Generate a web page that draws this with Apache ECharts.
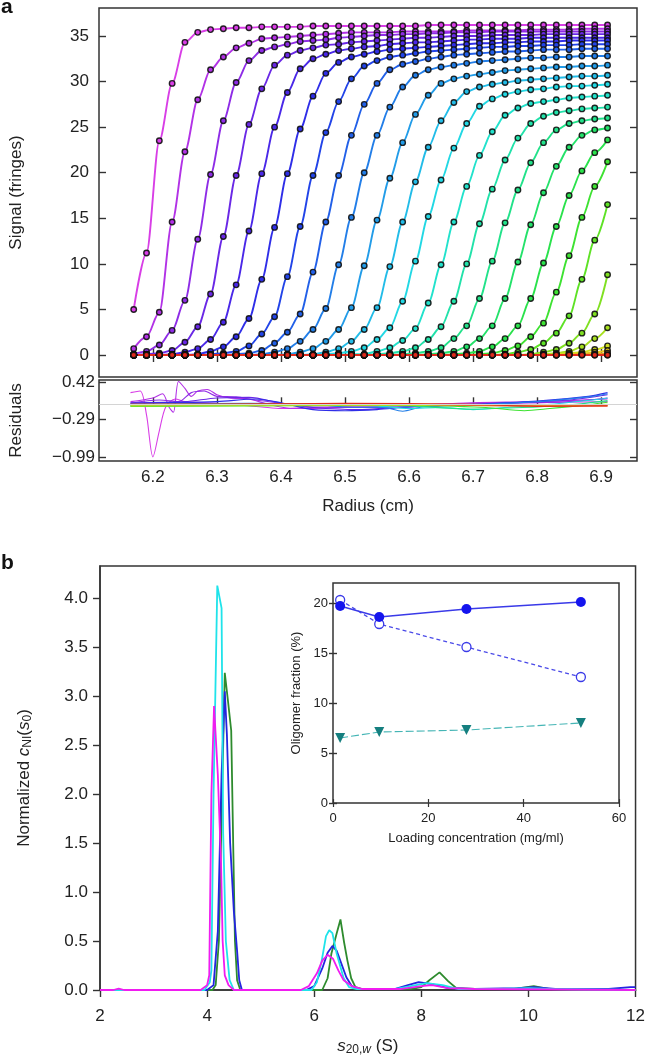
<!DOCTYPE html>
<html>
<head>
<meta charset="utf-8">
<script src="https://cdn.jsdelivr.net/npm/echarts@6/dist/echarts.min.js"></script>
<style>
html, body { margin: 0; padding: 0; background: #fff; }
#chart { width: 648px; height: 1063px; }
</style>
</head>
<body>
<div id="chart"></div>
<script>
// ---- panel a: sedimentation boundaries (fringes) on a shared radius grid (cm)
const radius = [6.17, 6.19, 6.21, 6.23, 6.25, 6.27, 6.29, 6.31, 6.33, 6.35,
  6.37, 6.39, 6.41, 6.43, 6.45, 6.47, 6.49, 6.51, 6.53, 6.55,
  6.57, 6.59, 6.61, 6.63, 6.65, 6.67, 6.69, 6.71, 6.73, 6.75,
  6.77, 6.79, 6.81, 6.83, 6.85, 6.87, 6.89, 6.91];

const scan1 = [5.0, 11.2, 23.5, 29.8, 34.3, 35.4, 35.7, 35.8, 35.9, 35.9,
  36.0, 36.0, 36.0, 36.0, 36.1, 36.1, 36.1, 36.1, 36.1, 36.1,
  36.1, 36.1, 36.1, 36.2, 36.2, 36.2, 36.2, 36.2, 36.2, 36.2,
  36.2, 36.2, 36.2, 36.2, 36.2, 36.2, 36.2, 36.2];
const scan2 = [0.7, 2.0, 4.7, 14.6, 22.3, 28.0, 31.3, 32.7, 33.7, 34.2,
  34.7, 34.8, 34.9, 35.0, 35.1, 35.2, 35.3, 35.4, 35.4, 35.4,
  35.4, 35.5, 35.5, 35.5, 35.5, 35.5, 35.6, 35.6, 35.6, 35.6,
  35.6, 35.7, 35.7, 35.7, 35.7, 35.8, 35.8, 35.8];
const scan3 = [0.1, 0.4, 1.1, 2.7, 6.0, 12.7, 19.8, 25.7, 29.9, 32.3,
  33.4, 33.8, 34.1, 34.4, 34.5, 34.6, 34.8, 34.9, 35.0, 35.1,
  35.1, 35.2, 35.2, 35.3, 35.3, 35.4, 35.4, 35.4, 35.5, 35.5,
  35.5, 35.5, 35.5, 35.5, 35.5, 35.5, 35.5, 35.5];
const scan4 = [0, 0.1, 0.2, 0.5, 1.4, 3.1, 6.7, 13.0, 19.7, 25.3,
  29.2, 31.8, 32.9, 33.4, 33.7, 34.0, 34.1, 34.3, 34.4, 34.5,
  34.6, 34.7, 34.8, 34.8, 34.9, 35.0, 35.0, 35.0, 35.1, 35.1,
  35.1, 35.1, 35.2, 35.2, 35.2, 35.2, 35.2, 35.2];
const scan5 = [0, 0, 0, 0.1, 0.3, 0.7, 1.7, 3.6, 7.7, 13.6,
  19.9, 25.0, 28.8, 31.4, 32.5, 33.0, 33.4, 33.6, 33.8, 33.9,
  34.1, 34.2, 34.3, 34.3, 34.4, 34.5, 34.6, 34.6, 34.7, 34.7,
  34.7, 34.8, 34.8, 34.8, 34.8, 34.8, 34.8, 34.8];
const scan6 = [0, 0, 0, 0, 0, 0.1, 0.4, 0.9, 2.0, 4.0,
  8.3, 14.0, 19.9, 24.8, 28.4, 30.9, 32.1, 32.7, 33.0, 33.3,
  33.5, 33.6, 33.7, 33.8, 33.9, 34.0, 34.1, 34.2, 34.2, 34.3,
  34.3, 34.4, 34.4, 34.4, 34.5, 34.5, 34.5, 34.5];
const scan7 = [0, 0, 0, 0, 0, 0, 0.1, 0.2, 0.4, 1.0,
  2.3, 4.2, 8.6, 14.1, 19.7, 24.4, 27.8, 30.3, 31.7, 32.3,
  32.7, 32.9, 33.1, 33.3, 33.4, 33.5, 33.6, 33.7, 33.8, 33.8,
  33.9, 33.9, 34.0, 34.0, 34.0, 34.1, 34.1, 34.1];
const scan8 = [0, 0, 0, 0, 0, 0, 0, 0, 0.1, 0.2,
  0.5, 1.3, 2.5, 4.5, 9.1, 14.6, 19.7, 24.1, 27.5, 29.8,
  31.3, 31.9, 32.2, 32.5, 32.7, 32.9, 33.0, 33.1, 33.2, 33.3,
  33.3, 33.4, 33.5, 33.5, 33.5, 33.6, 33.6, 33.6];
const scan9 = [0, 0, 0, 0, 0, 0, 0, 0, 0, 0,
  0.1, 0.3, 0.7, 1.5, 2.8, 5.1, 9.9, 15.1, 20.0, 24.1,
  27.2, 29.4, 30.7, 31.3, 31.6, 31.8, 32.0, 32.2, 32.3, 32.4,
  32.5, 32.6, 32.6, 32.7, 32.7, 32.8, 32.8, 32.8];
const scan10 = [0, 0, 0, 0, 0, 0, 0, 0, 0, 0,
  0, 0, 0.1, 0.3, 0.7, 1.5, 2.8, 5.2, 9.8, 14.8,
  19.4, 23.3, 26.4, 28.5, 29.8, 30.3, 30.6, 30.8, 31.0, 31.2,
  31.3, 31.4, 31.5, 31.6, 31.6, 31.7, 31.7, 31.8];
const scan11 = [0, 0, 0, 0, 0, 0, 0, 0, 0, 0,
  0, 0, 0, 0, 0.1, 0.3, 0.7, 1.5, 2.8, 5.2,
  9.7, 14.6, 19.0, 22.8, 25.7, 27.7, 28.9, 29.4, 29.7, 29.9,
  30.1, 30.2, 30.3, 30.4, 30.5, 30.6, 30.6, 30.7];
const scan12 = [0, 0, 0, 0, 0, 0, 0, 0, 0, 0,
  0, 0, 0, 0, 0, 0.1, 0.2, 0.4, 0.8, 1.7,
  3.0, 5.9, 10.3, 15.2, 19.2, 22.7, 25.4, 27.3, 28.1, 28.6,
  28.9, 29.1, 29.2, 29.4, 29.5, 29.5, 29.6, 29.7];
const scan13 = [0, 0, 0, 0, 0, 0, 0, 0, 0, 0,
  0, 0, 0, 0, 0, 0, 0, 0.1, 0.1, 0.4,
  0.8, 1.6, 2.9, 5.7, 9.9, 14.6, 18.5, 21.9, 24.5, 26.3,
  27.1, 27.6, 27.8, 28.0, 28.2, 28.3, 28.4, 28.5];
const scan14 = [0, 0, 0, 0, 0, 0, 0, 0, 0, 0,
  0, 0, 0, 0, 0, 0, 0, 0, 0, 0.1,
  0.2, 0.4, 0.8, 1.7, 3.1, 5.9, 10.0, 14.4, 18.2, 21.4,
  23.8, 25.4, 26.2, 26.6, 26.8, 27.0, 27.1, 27.2];
const scan15 = [0, 0, 0, 0, 0, 0, 0, 0, 0, 0,
  0, 0, 0, 0, 0, 0, 0, 0, 0, 0,
  0, 0.1, 0.2, 0.4, 0.8, 1.8, 3.2, 6.2, 10.3, 14.5,
  18.1, 21.1, 23.3, 24.7, 25.4, 25.7, 25.9, 26.0];
const scan16 = [0, 0, 0, 0, 0, 0, 0, 0, 0, 0,
  0, 0, 0, 0, 0, 0, 0, 0, 0, 0,
  0, 0, 0, 0.1, 0.2, 0.4, 0.9, 1.8, 3.2, 6.2,
  10.2, 14.3, 17.8, 20.7, 22.8, 24.1, 24.7, 24.9];
const scan17 = [0, 0, 0, 0, 0, 0, 0, 0, 0, 0,
  0, 0, 0, 0, 0, 0, 0, 0, 0, 0,
  0, 0, 0, 0, 0, 0.1, 0.2, 0.4, 0.9, 1.8,
  3.2, 6.2, 10.1, 14.1, 17.5, 20.2, 22.2, 23.6];
const scan18 = [0, 0, 0, 0, 0, 0, 0, 0, 0, 0,
  0, 0, 0, 0, 0, 0, 0, 0, 0, 0,
  0, 0, 0, 0, 0, 0, 0, 0.1, 0.2, 0.5,
  1.0, 2.0, 3.5, 6.9, 10.9, 15.1, 18.5, 21.2];
const scan19 = [0, 0, 0, 0, 0, 0, 0, 0, 0, 0,
  0, 0, 0, 0, 0, 0, 0, 0, 0, 0,
  0, 0, 0, 0, 0, 0, 0, 0, 0, 0.1,
  0.3, 0.6, 1.3, 2.4, 4.3, 8.3, 12.6, 16.5];
const scan20 = [0, 0, 0, 0, 0, 0, 0, 0, 0, 0,
  0, 0, 0, 0, 0, 0, 0, 0, 0, 0,
  0, 0, 0, 0, 0, 0, 0, 0, 0, 0,
  0, 0.1, 0.3, 0.6, 1.3, 2.4, 4.5, 8.8];
const scan21 = [0, 0, 0, 0, 0, 0, 0, 0, 0, 0,
  0, 0, 0, 0, 0, 0, 0, 0, 0, 0,
  0, 0, 0, 0, 0, 0, 0, 0, 0, 0,
  0, 0, 0.1, 0.2, 0.4, 0.9, 1.8, 3.0];
const scan22 = [0, 0, 0, 0, 0, 0, 0, 0, 0, 0,
  0, 0, 0, 0, 0, 0, 0, 0, 0, 0,
  0, 0, 0, 0, 0, 0, 0, 0, 0, 0,
  0, 0, 0, 0.1, 0.2, 0.3, 0.6, 1.0];
const scan23 = [0, 0, 0, 0, 0, 0, 0, 0, 0, 0,
  0, 0, 0, 0, 0, 0, 0, 0, 0, 0,
  0, 0, 0, 0, 0, 0, 0, 0, 0, 0,
  0, 0, 0, 0, 0.1, 0.15, 0.3, 0.5];
const scan24 = [0, 0, 0, 0, 0, 0, 0, 0, 0, 0,
  0, 0, 0, 0, 0, 0, 0, 0, 0, 0,
  0, 0, 0, 0, 0, 0, 0, 0, 0, 0,
  0, 0, 0, 0, 0, 0.05, 0.1, 0.2];
const scan25 = [0, 0, 0, 0, 0, 0, 0, 0, 0, 0,
  0, 0, 0, 0, 0, 0, 0, 0, 0, 0,
  0, 0, 0, 0, 0, 0, 0, 0, 0, 0,
  0, 0, 0, 0, 0, 0, 0, 0];
const scan26 = [0, 0, 0, 0, 0, 0, 0, 0, 0, 0,
  0, 0, 0, 0, 0, 0, 0, 0, 0, 0,
  0, 0, 0, 0, 0, 0, 0, 0, 0, 0,
  0, 0, 0, 0, 0, 0, 0, 0];

// residuals as [radius, residual] pairs, key scans only
const res1 = [[6.165, 0.22], [6.18, 0.25], [6.19, -0.2], [6.2, -0.99], [6.21, -0.5], [6.22, -0.05], [6.235, 0.1], [6.25, 0.05], [6.3, 0.02], [6.37, -0.05], [6.4, -0.08], [6.45, -0.06], [6.5, -0.04], [6.6, -0.01], [6.7, 0.02], [6.8, 0.03], [6.91, 0.05]];
const res2 = [[6.165, 0.05], [6.2, 0.12], [6.215, 0.2], [6.225, -0.05], [6.232, -0.15], [6.24, 0.43], [6.25, 0.3], [6.26, 0.15], [6.27, 0.25], [6.285, 0.28], [6.3, 0.18], [6.32, 0.12], [6.35, 0.1], [6.38, 0.0], [6.42, -0.08], [6.5, -0.06], [6.6, -0.02], [6.7, 0.03], [6.8, 0.05], [6.91, 0.1]];
const res3 = [[6.165, 0.02], [6.21, 0.08], [6.24, 0.05], [6.26, 0.22], [6.28, 0.25], [6.3, 0.15], [6.33, 0.14], [6.36, 0.08], [6.4, 0.02], [6.45, -0.05], [6.55, -0.06], [6.65, -0.02], [6.75, 0.02], [6.85, 0.05], [6.91, 0.12]];
const res4 = [[6.165, 0.03], [6.25, 0.05], [6.3, 0.12], [6.35, 0.13], [6.4, 0.02], [6.45, -0.06], [6.52, -0.1], [6.58, -0.06], [6.65, -0.02], [6.75, 0.02], [6.85, 0.08], [6.91, 0.18]];
const res6 = [[6.165, 0.02], [6.3, 0.05], [6.36, 0.1], [6.4, 0.03], [6.45, -0.1], [6.5, -0.12], [6.55, -0.1], [6.6, -0.05], [6.7, 0.0], [6.8, 0.06], [6.88, 0.15], [6.91, 0.22]];
const res9 = [[6.165, 0.0], [6.35, 0.02], [6.45, 0.0], [6.5, -0.05], [6.56, -0.06], [6.59, -0.13], [6.62, -0.05], [6.7, -0.01], [6.8, 0.05], [6.88, 0.14], [6.91, 0.2]];
const res12 = [[6.165, -0.02], [6.45, 0.0], [6.55, -0.03], [6.6, -0.08], [6.65, -0.06], [6.7, -0.1], [6.75, -0.06], [6.82, 0.0], [6.9, 0.1], [6.91, 0.12]];
const res15 = [[6.165, -0.03], [6.5, -0.01], [6.6, -0.03], [6.7, -0.09], [6.75, -0.07], [6.8, -0.05], [6.86, 0.0], [6.91, 0.07]];
const res18 = [[6.165, -0.04], [6.6, -0.02], [6.72, -0.06], [6.78, -0.12], [6.82, -0.08], [6.87, -0.02], [6.91, 0.04]];
const res21 = [[6.165, -0.03], [6.7, -0.02], [6.85, -0.03], [6.91, 0.0]];
const res23 = [[6.165, -0.01], [6.6, 0.0], [6.91, -0.02]];
const res25 = [[6.165, 0.0], [6.5, 0.01], [6.8, -0.03], [6.91, -0.03]];
const res26 = [[6.165, 0.0], [6.3, 0.0], [6.5, 0.02], [6.7, 0.0], [6.8, -0.04], [6.91, -0.03]];

const radiusTicks = [6.2, 6.3, 6.4, 6.5, 6.6, 6.7, 6.8, 6.9];
const signalTicks = [0, 5, 10, 15, 20, 25, 30, 35];
const residualTicks = [-0.99, -0.29, 0.42];

// ---- panel b: normalized c(s) distributions, [s20,w, value]
const csGreen = [[2, 0], [4.1, 0], [4.16, 0.05], [4.22, 0.5], [4.28, 2.0], [4.33, 3.24], [4.39, 2.95], [4.45, 2.65], [4.49, 1.4], [4.52, 0.5], [4.56, 0.1], [4.62, 0], [6.15, 0], [6.25, 0.12], [6.32, 0.37], [6.42, 0.58], [6.49, 0.72], [6.56, 0.48], [6.62, 0.3], [6.69, 0.12], [6.77, 0.03], [6.9, 0.01], [7.8, 0.01], [8.0, 0.03], [8.15, 0.1], [8.34, 0.18], [8.5, 0.09], [8.65, 0.02], [9.0, 0.01], [9.7, 0.01], [10.1, 0.04], [10.4, 0.01], [11, 0], [12, 0]];
const csBlue = [[2, 0], [4.0, 0], [4.12, 0.05], [4.2, 0.6], [4.27, 2.2], [4.33, 3.05], [4.37, 2.6], [4.43, 1.5], [4.5, 0.8], [4.56, 0.4], [4.6, 0.1], [4.65, 0], [5.85, 0], [6.0, 0.04], [6.15, 0.22], [6.25, 0.38], [6.34, 0.45], [6.42, 0.4], [6.5, 0.28], [6.6, 0.13], [6.7, 0.04], [6.85, 0.01], [7.5, 0.01], [7.75, 0.05], [7.95, 0.08], [8.2, 0.06], [8.5, 0.02], [9.0, 0.01], [9.8, 0.02], [10.1, 0.03], [10.5, 0.01], [11.5, 0.01], [11.9, 0.03], [12, 0.03]];
const csCyan = [[2, 0], [3.95, 0], [4.05, 0.08], [4.08, 0.2], [4.12, 2.0], [4.19, 4.13], [4.27, 3.9], [4.3, 1.6], [4.35, 0.5], [4.42, 0.1], [4.5, 0], [5.95, 0], [6.05, 0.08], [6.14, 0.3], [6.22, 0.55], [6.28, 0.61], [6.34, 0.58], [6.42, 0.37], [6.55, 0.12], [6.65, 0.03], [6.8, 0.01], [7.5, 0.01], [7.8, 0.04], [8.1, 0.07], [8.4, 0.05], [8.7, 0.01], [9.5, 0.01], [10.0, 0.02], [10.4, 0.01], [12, 0]];
const csMagenta = [[2, 0], [2.25, 0], [2.35, 0.015], [2.45, 0], [3.88, 0], [4.0, 0.05], [4.04, 0.15], [4.08, 2.0], [4.13, 2.9], [4.2, 2.2], [4.26, 1.3], [4.29, 0.5], [4.33, 0.15], [4.4, 0.05], [4.5, 0], [5.75, 0], [5.9, 0.04], [6.05, 0.17], [6.15, 0.3], [6.25, 0.36], [6.35, 0.32], [6.45, 0.2], [6.55, 0.1], [6.7, 0.04], [6.9, 0.01], [7.6, 0.01], [8.0, 0.04], [8.2, 0.05], [8.5, 0.02], [9.0, 0.01], [12, 0]];
const cTicks = [0, 0.5, 1, 1.5, 2, 2.5, 3, 3.5, 4];

// inset: oligomer fraction (%) vs loading concentration (mg/ml)
const loadConc = [1.5, 9.7, 28, 52];
const oligoFilled = [19.7, 18.6, 19.4, 20.1];
const oligoOpen = [20.3, 17.9, 15.6, 12.6];
const oligoTriangle = [6.5, 7.1, 7.3, 8.0];
const insetTicks = [0, 5, 10, 15, 20];

const scans = [scan1, scan2, scan3, scan4, scan5, scan6, scan7, scan8, scan9, scan10,
  scan11, scan12, scan13, scan14, scan15, scan16, scan17, scan18, scan19, scan20,
  scan21, scan22, scan23, scan24, scan25, scan26];
const scanColors = ['#d83ee6', '#b232e6', '#8e2ce6', '#6a28e6', '#4a28e8', '#2f2ee8', '#2244e8', '#2260e8', '#227ee8', '#229ce8',
  '#22bce8', '#22d8e4', '#22e2cc', '#22e2aa', '#22e28a', '#24e26a', '#2ae24c', '#3ee232', '#5ee226', '#80e022',
  '#a8e020', '#d0e020', '#e8c820', '#e89a20', '#e86420', '#e02a1c'];
const residuals = [[res1, 0], [res2, 1], [res3, 2], [res4, 3], [res6, 5], [res9, 8], [res12, 11],
  [res15, 14], [res18, 17], [res21, 20], [res23, 22], [res25, 24], [res26, 25]];

const FONT = '"Liberation Sans", Arial, Helvetica, sans-serif';
const INK = '#222';
const frame = { show: true, borderColor: '#333', borderWidth: 1.5, backgroundColor: 'transparent' };
const lbl = (size, extra) => Object.assign({ fontSize: size, color: INK, fontFamily: FONT }, extra || {});
const tick = (vals, inside, len) => ({ show: true, inside: inside, length: len, customValues: vals, lineStyle: { color: '#333', width: 1.4 } });
const off = { show: false };

let chart = echarts.init(document.getElementById('chart'), null, { renderer: 'canvas' });

let series = [];
scans.forEach((s, i) => {
  series.push({
    type: 'line', xAxisIndex: 0, yAxisIndex: 0,
    data: radius.map((r, k) => [r, s[k]]),
    smooth: 0.3, smoothMonotone: 'x',
    symbol: 'circle', symbolSize: 5.5, showAllSymbol: true,
    lineStyle: { color: scanColors[i], width: 1.9 },
    itemStyle: { color: scanColors[i], borderColor: 'rgba(15,15,15,0.9)', borderWidth: 1.4 },
    silent: true
  });
});
residuals.forEach(([d, ci], i) => {
  let s = {
    type: 'line', xAxisIndex: 2, yAxisIndex: 2, data: d,
    smooth: 0.3, showSymbol: false,
    lineStyle: { color: scanColors[ci], width: 1.1 }, silent: true
  };
  if (i === 0) {
    s.markLine = { silent: true, symbol: 'none', label: off, data: [{ yAxis: 0 }],
      lineStyle: { color: '#d4d4d4', width: 1, type: 'solid' } };
  }
  series.push(s);
});
[[csGreen, '#2e8b2e'], [csBlue, '#2424e0'], [csCyan, '#1fe3ea'], [csMagenta, '#f01cf0']].forEach(([d, c]) => {
  series.push({ type: 'line', xAxisIndex: 3, yAxisIndex: 4, data: d, showSymbol: false,
    lineStyle: { color: c, width: 1.8 }, silent: true });
});
series.push({ type: 'line', xAxisIndex: 4, yAxisIndex: 5,
  data: loadConc.map((c, i) => [c, oligoOpen[i]]),
  symbol: 'circle', symbolSize: 9,
  itemStyle: { color: '#fff', borderColor: '#3a3ae8', borderWidth: 1.3 },
  lineStyle: { color: '#4a4ae8', width: 1.3, type: [4, 3] }, silent: true });
series.push({ type: 'line', xAxisIndex: 4, yAxisIndex: 5,
  data: loadConc.map((c, i) => [c, oligoFilled[i]]),
  symbol: 'circle', symbolSize: 10,
  itemStyle: { color: '#1414ee' },
  lineStyle: { color: '#3a3ae8', width: 1.3 }, silent: true });
series.push({ type: 'line', xAxisIndex: 4, yAxisIndex: 5,
  data: loadConc.map((c, i) => [c, oligoTriangle[i]]),
  symbol: 'triangle', symbolRotate: 180, symbolSize: 10,
  itemStyle: { color: '#157f7f' },
  lineStyle: { color: '#45b5b5', width: 1.1, type: [8, 3] }, silent: true });

const rich = {
  t: lbl(17, { lineHeight: 20 }),
  i: lbl(17, { fontStyle: 'italic', lineHeight: 20 }),
  s: lbl(12, { lineHeight: 12, padding: [9, 0, 0, 0], verticalAlign: 'bottom' }),
  si: lbl(12, { fontStyle: 'italic', lineHeight: 12, padding: [9, 0, 0, 0], verticalAlign: 'bottom' })
};

let option = {
  animation: false,
  backgroundColor: '#fff',
  textStyle: { fontFamily: FONT },
  graphic: [
    { type: 'text', left: 1, top: -3, style: { text: 'a', fontSize: 21, fontWeight: 'bold', fontFamily: FONT, fill: '#111' } },
    { type: 'text', left: 1, top: 553, style: { text: 'b', fontSize: 21, fontWeight: 'bold', fontFamily: FONT, fill: '#111' } }
  ],
  grid: [
    Object.assign({ left: 98, top: 8, width: 539, height: 369 }, frame),
    Object.assign({ left: 98, top: 380, width: 539, height: 81 }, frame),
    Object.assign({ left: 100, top: 566, width: 536, height: 424 }, frame),
    Object.assign({ left: 333, top: 583, width: 286, height: 220 }, frame, { backgroundColor: '#fff' })
  ],
  xAxis: [
    { gridIndex: 0, type: 'value', min: 6.1158, max: 6.956, position: 'bottom',
      axisLine: off, axisTick: tick(radiusTicks, true, 7), axisLabel: off, splitLine: off },
    { gridIndex: 0, type: 'value', min: 6.1158, max: 6.956, position: 'top',
      axisLine: off, axisTick: tick(radiusTicks, true, 7), axisLabel: off, splitLine: off },
    { gridIndex: 1, type: 'value', min: 6.1158, max: 6.956, position: 'bottom',
      axisLine: off, axisTick: tick(radiusTicks, true, 7), splitLine: off,
      axisLabel: lbl(17, { customValues: radiusTicks, margin: 8, formatter: v => v.toFixed(1) }),
      name: 'Radius (cm)', nameLocation: 'middle', nameGap: 37, nameTextStyle: lbl(17) },
    { gridIndex: 2, type: 'value', min: 2, max: 12, interval: 2,
      axisLine: { show: true, lineStyle: { color: '#333', width: 1.5 } },
      axisTick: { show: true, inside: false, length: 7, lineStyle: { color: '#333', width: 1.4 } },
      axisLabel: lbl(17, { margin: 18 }), splitLine: off,
      name: '{i|s}{s|20,}{si|w}{t| (S)}', nameLocation: 'middle', nameGap: 46,
      nameTextStyle: { rich: rich } },
    { gridIndex: 3, type: 'value', min: 0, max: 60, interval: 20,
      axisLine: off, axisTick: { show: true, inside: true, length: 4, lineStyle: { color: '#333', width: 1.2 } },
      axisLabel: lbl(13, { margin: 9 }), splitLine: off,
      name: 'Loading concentration (mg/ml)', nameLocation: 'middle', nameGap: 29, nameTextStyle: lbl(13) },
    { gridIndex: 3, type: 'value', min: 0, max: 60, interval: 20, position: 'top',
      axisLine: off, axisTick: { show: true, inside: true, length: 4, lineStyle: { color: '#333', width: 1.2 } },
      axisLabel: off, splitLine: off }
  ],
  yAxis: [
    { gridIndex: 0, type: 'value', min: -2.41, max: 38.07, position: 'left',
      axisLine: off, axisTick: tick(signalTicks, true, 7), splitLine: off,
      axisLabel: lbl(17, { customValues: signalTicks, margin: 10 }),
      name: 'Signal (fringes)', nameLocation: 'middle', nameGap: 74, nameTextStyle: lbl(17) },
    { gridIndex: 0, type: 'value', min: -2.41, max: 38.07, position: 'right',
      axisLine: off, axisTick: tick(signalTicks, true, 7), axisLabel: off, splitLine: off },
    { gridIndex: 1, type: 'value', min: -1.068, max: 0.458, position: 'left',
      axisLine: off, axisTick: tick(residualTicks, true, 7), splitLine: off,
      axisLabel: lbl(17, { customValues: residualTicks, margin: 4,
        formatter: v => (v < 0 ? '\u2212' : '') + Math.abs(v).toFixed(2) }),
      name: 'Residuals', nameLocation: 'middle', nameGap: 74, nameTextStyle: lbl(17) },
    { gridIndex: 1, type: 'value', min: -1.068, max: 0.458, position: 'right',
      axisLine: off, axisTick: tick(residualTicks, true, 7), axisLabel: off, splitLine: off },
    { gridIndex: 2, type: 'value', min: 0, max: 4.33, position: 'left',
      axisLine: { show: true, lineStyle: { color: '#333', width: 1.5 } },
      axisTick: tick(cTicks, false, 7), splitLine: off,
      axisLabel: lbl(17, { customValues: cTicks, margin: 12, formatter: v => v.toFixed(1) }),
      name: '{t|Normalized }{i|c}{s|NI}{t|(}{i|s}{s|0}{t|)}', nameLocation: 'middle', nameGap: 66,
      nameTextStyle: { rich: rich } },
    { gridIndex: 3, type: 'value', min: 0, max: 22, position: 'left',
      axisLine: off, axisTick: tick(insetTicks, true, 4), splitLine: off,
      axisLabel: lbl(13, { customValues: insetTicks, margin: 5 }),
      name: 'Oligomer fraction (%)', nameLocation: 'middle', nameGap: 30, nameTextStyle: lbl(13) },
    { gridIndex: 3, type: 'value', min: 0, max: 22, position: 'right',
      axisLine: off, axisTick: tick(insetTicks, true, 4), axisLabel: off, splitLine: off }
  ],
  series: series
};

chart.setOption(option);
</script>
</body>
</html>
